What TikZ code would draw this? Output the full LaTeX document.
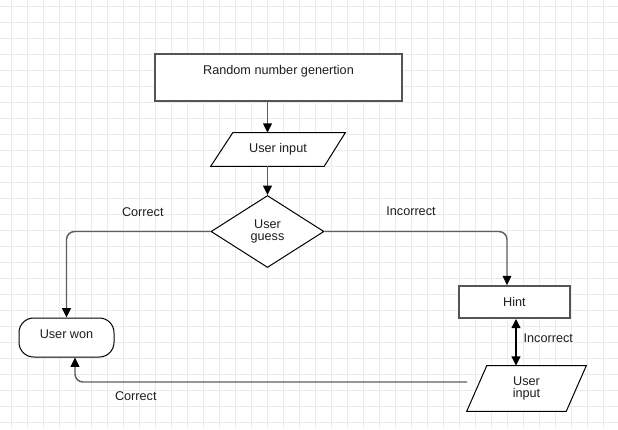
\documentclass[tikz,border=0pt]{standalone}
\usepackage{fontspec}
\setmainfont{Liberation Sans}
\usetikzlibrary{shapes.geometric,arrows.meta,calc}
\newdimen\pxu \pxu=0.75pt
\pgfdeclarelayer{gridlayer}
\pgfdeclarelayer{shapelayer}
\pgfsetlayers{gridlayer,shapelayer,main}
\definecolor{gridc}{HTML}{EBEBEB}
\definecolor{connc}{HTML}{5E5E5E}
\definecolor{boxc}{HTML}{555555}
\definecolor{txtc}{HTML}{1E1E1E}
\tikzset{
  every node/.style={font=\fontsize{9.5}{9.5}\selectfont, text=txtc},
  gridline/.style={draw=gridc, line width=0.75pt},
  graybox/.style={rectangle, draw=boxc, line width=1.25pt, fill=white, inner sep=0pt},
  thinshape/.style={draw=black, line width=0.75pt, fill=white},
  ghost/.style={rectangle, draw=none, inner sep=0pt, align=center},
  conn/.style={draw=connc, line width=1.1pt, -{Triangle[length=7pt,width=6.5pt,color=black]}, rounded corners=6pt},
  dblconn/.style={draw=black, line width=1.6pt, {Triangle[length=7pt,width=6.5pt]}-{Triangle[length=7pt,width=6.5pt]}},
  lbl/.style={anchor=base, inner sep=0pt}
}
\begin{document}
\begin{tikzpicture}[x=0.75pt, y=-0.75pt]
\useasboundingbox (0,0) rectangle (618,429);
\begin{pgfonlayer}{gridlayer}
  \fill[white] (0,0) rectangle (618,429);
  \foreach \gx in {11.5,27.5,...,619.5} \draw[gridline] (\gx,0) -- (\gx,429);
  \foreach \gy in {6,22,...,422} \draw[gridline] (0,\gy) -- (618,\gy);
\end{pgfonlayer}

% nodes
\node[graybox, minimum width=247\pxu, minimum height=47\pxu, text depth=12pt] (rng) at (278.5,77.5) {Random number genertion};
\node[ghost, minimum width=134\pxu, minimum height=33\pxu] (ui1) at (278,149.5) {User input};
\node[diamond, thinshape, inner sep=0pt, aspect=1.57, minimum width=113\pxu, minimum height=72\pxu, align=center] (dia) at (267.5,231.5) {User\\guess};
\node[graybox, minimum width=111\pxu, minimum height=32\pxu] (hint) at (514.5,302) {Hint};
\node[rectangle, thinshape, rounded corners=11pt, inner sep=0pt, minimum width=95\pxu, minimum height=39\pxu, text depth=5.5pt] (won) at (66.5,337.5) {User won};
\node[ghost, minimum width=119\pxu, minimum height=45\pxu] (ui2) at (526.5,388.5) {User\\input};

\begin{pgfonlayer}{shapelayer}
  \draw[thinshape] ($(ui1.north west)+(22,0)$) -- (ui1.north east) -- ($(ui1.south east)+(-21,0)$) -- (ui1.south west) -- cycle;
  \draw[thinshape] ($(ui2.north west)+(20,0)$) -- (ui2.north east) -- ($(ui2.south east)+(-20,0)$) -- (ui2.south west) -- cycle;
\end{pgfonlayer}

% connectors
\coordinate (hin) at ($(hint.north)+(-7.5,0)$);
\coordinate (u2out) at (467,382);
\coordinate (wonin) at ($(won.south)+(8.5,0)$);
\coordinate (hs) at ($(hint.south)+(1.5,0)$);
\coordinate (un) at (hs |- ui2.north);

\draw[conn] (rng.south -| dia.north) -- (ui1.north -| dia.north);
\draw[conn] (ui1.south -| dia.north) -- (dia.north);
\draw[conn] (dia.west) -| (won.north);
\draw[conn] (dia.east) -| (hin);
\draw[conn] (u2out) -| (wonin);
\draw[dblconn] (hs) -- (un);

% labels
\node[lbl] (lc1) at (142.8,216.5) {Correct};
\node[lbl] (li1) at (411,215.5) {Incorrect};
\node[lbl] (li2) at (548.3,342.5) {Incorrect};
\node[lbl] (lc2) at (135.8,400.5) {Correct};
\end{tikzpicture}
\end{document}
